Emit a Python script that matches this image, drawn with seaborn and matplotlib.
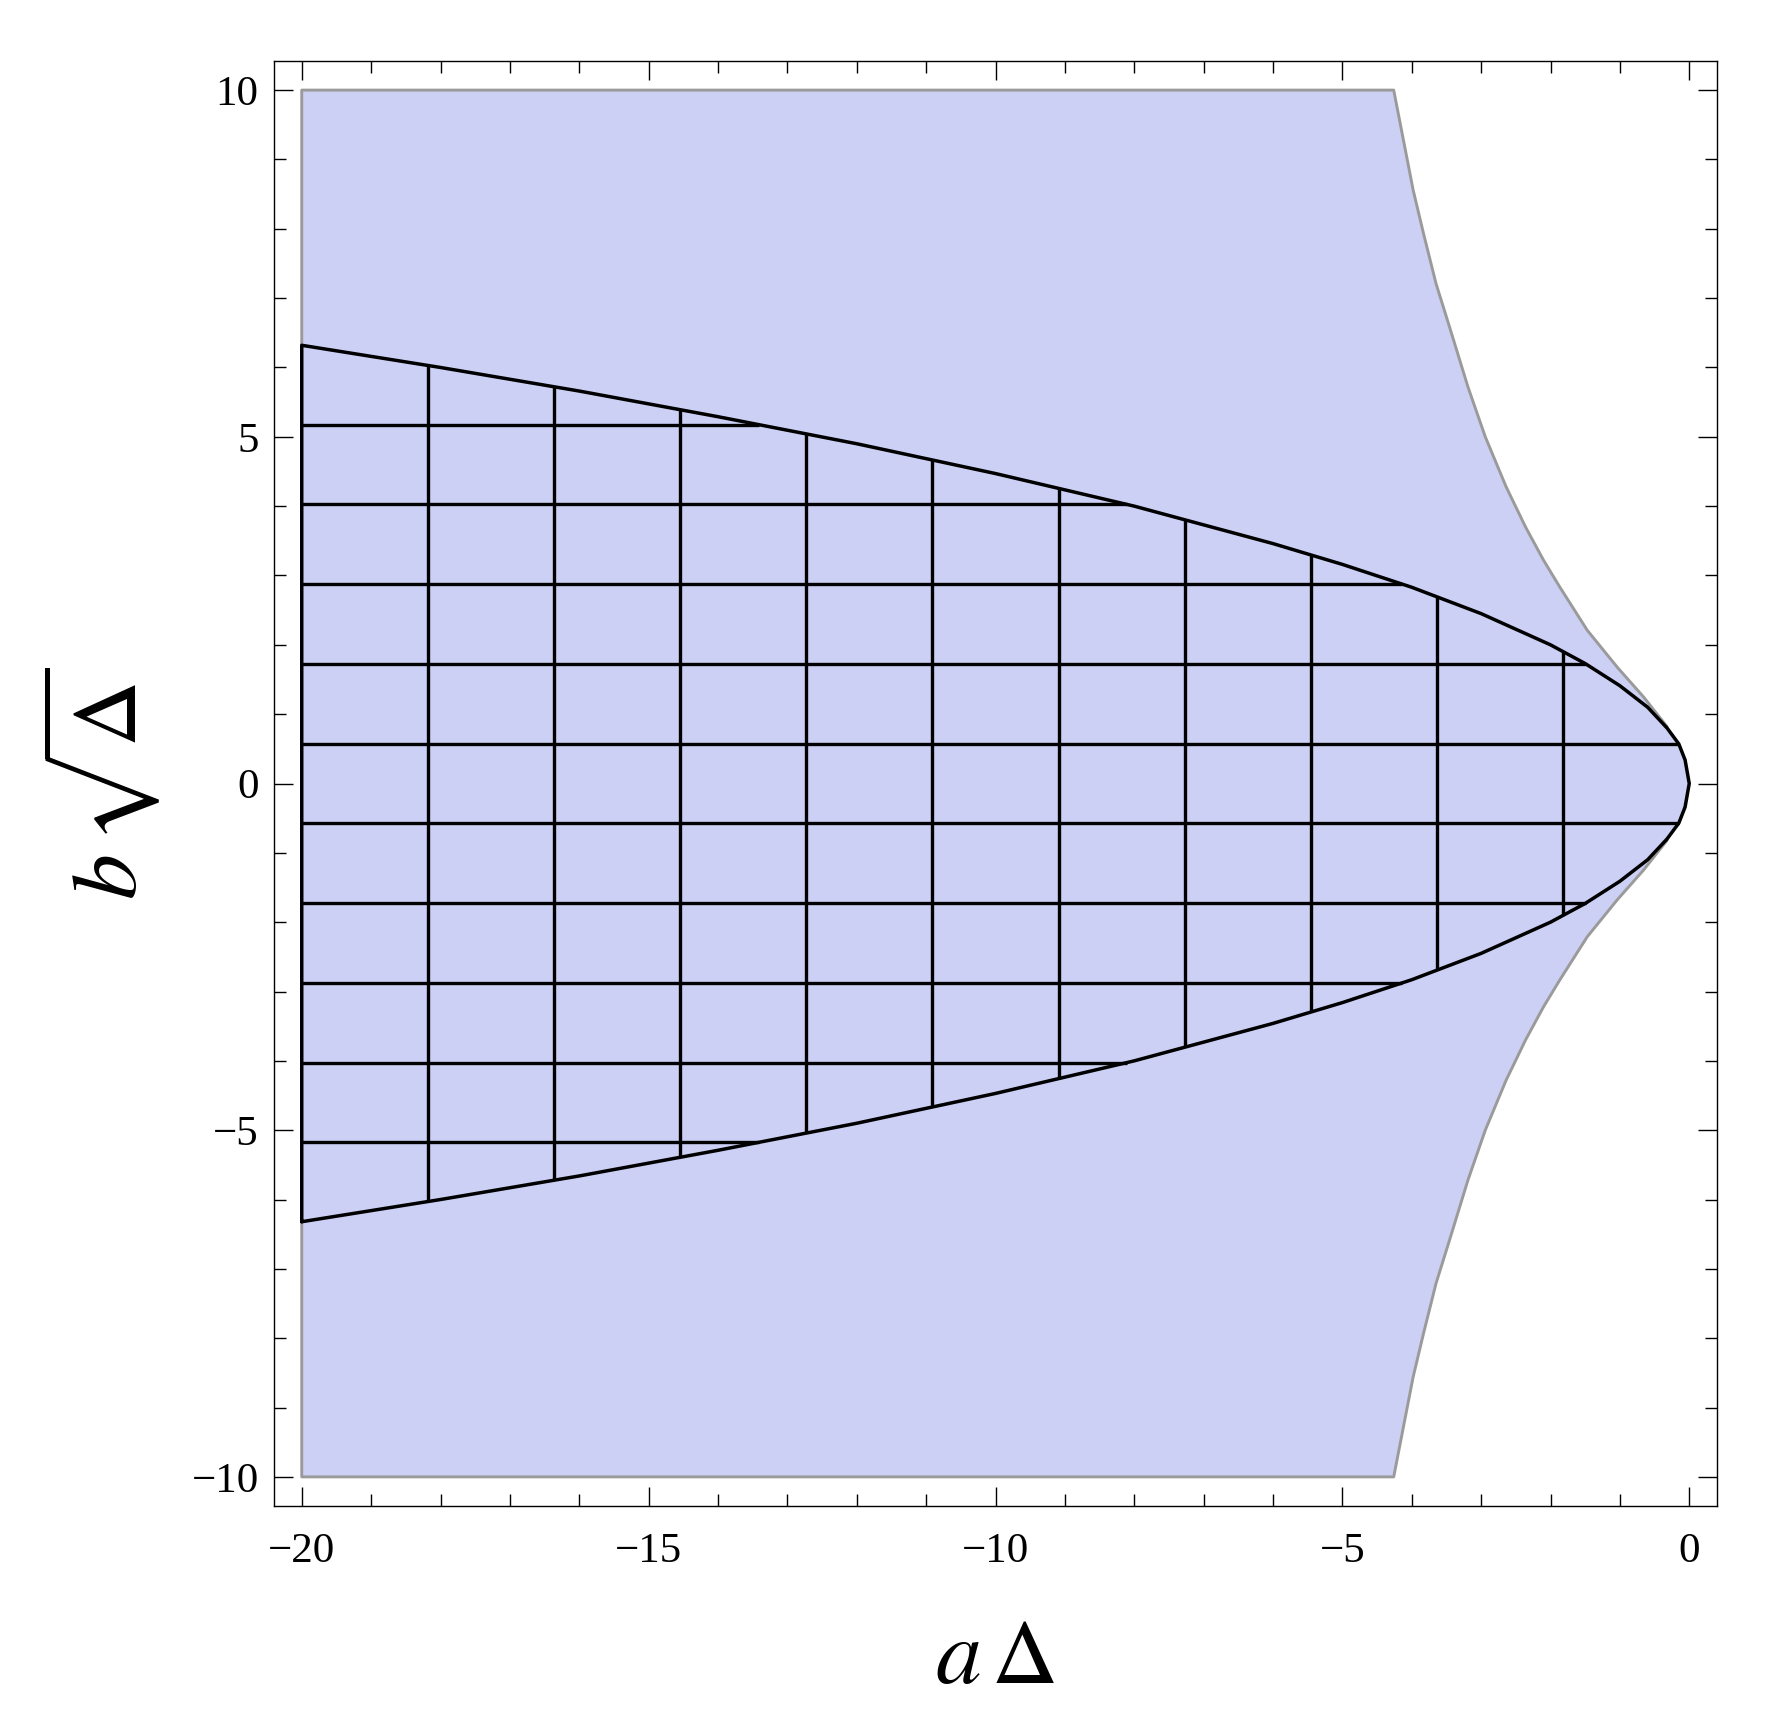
import numpy as np
import matplotlib
matplotlib.use("Agg")
import matplotlib.pyplot as plt
import seaborn as sns
from matplotlib.ticker import MultipleLocator

# outer region: right boundary (upper half, mirrored below)
outer_b = [10.0, 9.28, 8.56, 7.93, 7.21, 6.60, 5.72, 5.00, 4.28, 3.70, 3.22, 2.84, 2.21, 1.68, 1.25, 0.82, 0.57, 0.34, 0.0]
outer_a = [-4.26, -4.12, -3.98, -3.83, -3.65, -3.46, -3.19, -2.94, -2.64, -2.36, -2.10, -1.87, -1.47, -1.04, -0.66, -0.32, -0.15, -0.06, 0.0]
n_grey = 16  # points of the outer boundary drawn in grey (rest follows the black curve)

# inner parabola-like region: half width at given a
par_a = [-20, -18, -16, -14, -12, -10, -8, -6, -5, -4, -3, -2, -1.5, -1, -0.6, -0.32, -0.15, -0.06, 0]
par_b = [6.32, 6.0, 5.66, 5.29, 4.9, 4.47, 4.0, 3.46, 3.16, 2.83, 2.45, 2.0, 1.73, 1.41, 1.10, 0.80, 0.57, 0.34, 0.0]

# mesh lines
mesh_a = [-18.18, -16.36, -14.55, -12.73, -10.91, -9.09, -7.27, -5.45, -3.64, -1.82]
mesh_b = [-5.175, -4.025, -2.875, -1.725, -0.575, 0.575, 1.725, 2.875, 4.025, 5.175]

a_min = -20
b_max = 10
x_ticks = [-20, -15, -10, -5, 0]
y_ticks = [-10, -5, 0, 5, 10]

sns.set_theme(style="ticks")
plt.rcParams['font.family'] = ['Liberation Serif', 'DejaVu Serif']
plt.rcParams['mathtext.fontset'] = 'stix'

fill_col = "#cbd0f4"
edge_col = "#9a9a9a"

fig = plt.figure(figsize=(17.85, 17.11), dpi=100)
ax = fig.add_axes([274 / 1785, 1 - 1506 / 1711, 1443 / 1785, 1445 / 1711])

# shaded outer region
yy = np.concatenate([outer_b, -np.array(outer_b[::-1])])
xx = np.concatenate([outer_a, outer_a[::-1]])
ax.fill_betweenx(yy, a_min, xx, color=fill_col, lw=0, zorder=1)

# grey outline of the outer region (upper and lower halves)
for s in (1, -1):
    gx = [a_min, a_min] + outer_a[:n_grey]
    gy = [s * par_b[0], s * b_max] + [s * v for v in outer_b[:n_grey]]
    sns.lineplot(x=gx, y=gy, sort=False, estimator=None, color=edge_col, lw=2.1, ax=ax, zorder=2)

# mesh lines clipped to the inner region
pa = np.array(par_a)
pb = np.array(par_b)
for a in mesh_a:
    h = np.interp(a, pa, pb)
    ax.vlines(a, -h, h, color="black", lw=2.4, zorder=3)
for b in mesh_b:
    xr = np.interp(abs(b), pb[::-1], pa[::-1])
    ax.hlines(b, a_min, xr, color="black", lw=2.4, zorder=3)

# inner region outline
px = [a_min] + list(par_a) + list(par_a[::-1][1:])
py = [-par_b[0]] + list(par_b) + [-v for v in par_b[::-1][1:]]
sns.lineplot(x=px, y=py, sort=False, estimator=None, color="black", lw=2.5, ax=ax, zorder=4)

ax.set_xlim(-20.4, 0.4)
ax.set_ylim(-10.42, 10.42)
ax.set_xticks(x_ticks)
ax.set_yticks(y_ticks)
ax.xaxis.set_minor_locator(MultipleLocator(1))
ax.yaxis.set_minor_locator(MultipleLocator(1))
ax.tick_params(which="both", direction="in", top=True, right=True, color="black", width=1.0)
ax.tick_params(which="major", length=13.7)
ax.tick_params(which="minor", length=8.6)
ax.tick_params(axis="x", which="major", pad=19, labelsize=31, labelcolor="black")
ax.tick_params(axis="y", which="major", pad=11, labelsize=31, labelcolor="black")
for sp in ax.spines.values():
    sp.set_color("black")
    sp.set_linewidth(1.0)

ax.set_xlabel(r"$a\,\Delta$", fontsize=66, color="black", va="baseline")
ax.xaxis.set_label_coords(0.5, -(1683 - 1506) / 1445)
ax.set_ylabel(r"$b\,\sqrt{\Delta}$", fontsize=66, color="black", va="center")
ax.yaxis.set_label_coords(-(274 - 101) / 1443, 0.5)

ax.set_facecolor("white")
fig.savefig("out.png", dpi=100, facecolor="white")
